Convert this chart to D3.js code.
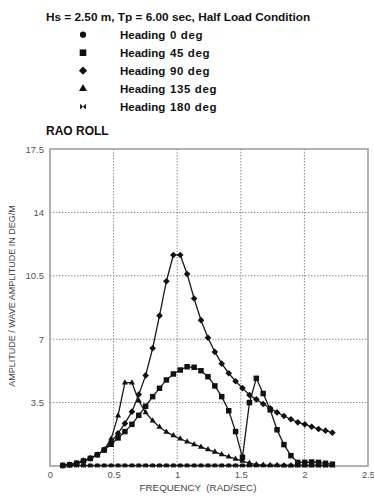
<!DOCTYPE html>
<html>
<head>
<meta charset="utf-8">
<script src="https://cdn.jsdelivr.net/npm/d3@7"></script>
<style>
  body { margin: 0; background: #fff; }
  svg { display: block; font-family: "Liberation Sans", Arial, sans-serif; }
</style>
</head>
<body>
<svg id="chart"></svg>
<script>
// frequency points (rad/sec)
const freq = [0.100, 0.154, 0.209, 0.263, 0.317, 0.372, 0.426, 0.481, 0.535, 0.589,
              0.644, 0.698, 0.752, 0.807, 0.861, 0.915, 0.970, 1.024, 1.078, 1.133,
              1.187, 1.242, 1.296, 1.350, 1.405, 1.459, 1.513, 1.568, 1.622, 1.676,
              1.731, 1.785, 1.839, 1.894, 1.948, 2.003, 2.057, 2.111, 2.166, 2.220];

const heading0 = [0.03, 0.03, 0.03, 0.03, 0.03, 0.03, 0.03, 0.03, 0.03, 0.03,
                  0.03, 0.03, 0.03, 0.03, 0.03, 0.03, 0.03, 0.03, 0.03, 0.03,
                  0.03, 0.03, 0.03, 0.03, 0.03, 0.03, 0.03, 0.03, 0.03, 0.03,
                  0.03, 0.03, 0.03, 0.03, 0.03, 0.03, 0.03, 0.03, 0.03, 0.03];
const heading45 = [0.03, 0.07, 0.15, 0.28, 0.42, 0.62, 0.88, 1.2, 1.55, 1.9,
                   2.3, 2.8, 3.3, 3.83, 4.29, 4.75, 5.08, 5.3, 5.48, 5.45,
                   5.26, 4.93, 4.42, 3.83, 3.05, 1.9, 0.48, 3.5, 4.84, 4.0,
                   3.1, 2.0, 1.18, 0.57, 0.2, 0.2, 0.22, 0.2, 0.15, 0.1];
const heading90 = [0.03, 0.07, 0.15, 0.28, 0.42, 0.62, 0.9, 1.3, 1.8, 2.35,
                   3.0, 3.95, 5.0, 6.5, 8.3, 10.2, 11.65, 11.65, 10.6, 9.25,
                   8.05, 7.08, 6.3, 5.65, 5.12, 4.68, 4.3, 3.92, 3.68, 3.42,
                   3.19, 2.96, 2.76, 2.58, 2.41, 2.3, 2.17, 2.04, 1.95, 1.84];
const heading135 = [0.03, 0.07, 0.15, 0.28, 0.42, 0.62, 0.9, 1.5, 2.78, 4.6,
                    4.6, 3.6, 2.95, 2.5, 2.15, 1.88, 1.68, 1.5, 1.34, 1.19,
                    1.05, 0.91, 0.78, 0.64, 0.51, 0.39, 0.27, 0.16, 0.08, 0.05,
                    0.04, 0.04, 0.03, 0.03, 0.03, 0.03, 0.03, 0.03, 0.03, 0.03];
const heading180 = [0.02, 0.02, 0.02, 0.02, 0.02, 0.02, 0.02, 0.02, 0.02, 0.02,
                    0.02, 0.02, 0.02, 0.02, 0.02, 0.02, 0.02, 0.02, 0.02, 0.02,
                    0.02, 0.02, 0.02, 0.02, 0.02, 0.02, 0.02, 0.02, 0.02, 0.02,
                    0.02, 0.02, 0.02, 0.02, 0.02, 0.02, 0.02, 0.02, 0.02, 0.02];

const legendLabels = ['0 deg', '45 deg', '90 deg', '135 deg', '180 deg'];
const xTicks = [0, 0.5, 1, 1.5, 2, 2.5];
const yTicks = [3.5, 7, 10.5, 14, 17.5];

const width = 374, height = 497;
const svg = d3.select('#chart').attr('width', width).attr('height', height);

// custom markers
const symbolBowtie = {
    draw(context, size) {
        const r = Math.sqrt(size) / 2;
        context.moveTo(-r, -r); context.lineTo(0, 0); context.lineTo(-r, r); context.closePath();
        context.moveTo(r, -r); context.lineTo(0, 0); context.lineTo(r, r); context.closePath();
    }
};
const symbolRhomb = {
    draw(context, size) {
        const r = Math.sqrt(size / 2);
        context.moveTo(0, -r); context.lineTo(r, 0); context.lineTo(0, r); context.lineTo(-r, 0);
        context.closePath();
    }
};

const series = [
    { values: heading0, symbol: d3.symbolCircle, size: 14, legendSize: 30 },
    { values: heading180, symbol: symbolBowtie, size: 22, legendSize: 34 },
    { values: heading135, symbol: d3.symbolTriangle, size: 16, legendSize: 28 },
    { values: heading45, symbol: d3.symbolSquare, size: 30, legendSize: 44 },
    { values: heading90, symbol: symbolRhomb, size: 22, legendSize: 34 }
];
const legendOrder = [0, 3, 4, 2, 1];

const x = d3.scaleLinear().domain([0, 2.5]).range([50, 368]);
const y = d3.scaleLinear().domain([0, 17.5]).range([466, 149]);

// header
svg.append('text').attr('x', 46).attr('y', 20.5)
    .style('font-size', '11.8px').style('font-weight', 'bold').attr('fill', '#111')
    .text('Hs = 2.50 m, Tp = 6.00 sec, Half Load Condition');

const legend = svg.selectAll('.legend')
    .data(legendOrder)
    .enter().append('g')
    .attr('class', 'legend')
    .attr('transform', (d, i) => `translate(0, ${34.7 + i * 18})`);

legend.append('path')
    .attr('transform', 'translate(83, 0)')
    .attr('d', d => d3.symbol().type(series[d].symbol).size(series[d].legendSize)())
    .attr('fill', '#111');

legend.append('text').attr('x', 120).attr('y', 4)
    .style('font-size', '11.5px').style('font-weight', 'bold').attr('fill', '#111')
    .text('Heading');
legend.append('text').attr('x', 170).attr('y', 4)
    .style('font-size', '11.5px').style('font-weight', 'bold').style('letter-spacing', '0.6px')
    .attr('fill', '#111')
    .text((d, i) => legendLabels[i]);

svg.append('text').attr('x', 46).attr('y', 134.5)
    .style('font-size', '12px').style('font-weight', 'bold').attr('fill', '#111')
    .text('RAO ROLL');

// grid
const grid = svg.append('g').attr('stroke', '#8a8a8a').attr('stroke-width', 1)
    .attr('stroke-dasharray', '1.5,1.5');
grid.selectAll('.gx').data(xTicks.slice(1, -1)).enter().append('line')
    .attr('x1', d => x(d)).attr('x2', d => x(d)).attr('y1', y(17.5)).attr('y2', y(0));
grid.selectAll('.gy').data(yTicks.slice(0, -1)).enter().append('line')
    .attr('x1', x(0)).attr('x2', x(2.5)).attr('y1', d => y(d)).attr('y2', d => y(d));

// frame
svg.append('rect').attr('x', x(0)).attr('y', y(17.5))
    .attr('width', x(2.5) - x(0)).attr('height', y(0) - y(17.5))
    .attr('fill', 'none').attr('stroke', '#9a9a9a').attr('stroke-width', 1.5);

// axes
const xAxis = svg.append('g').attr('transform', `translate(0, ${y(0)})`)
    .call(d3.axisBottom(x).tickValues(xTicks).tickFormat(d3.format('')).tickSize(0).tickPadding(5));
const yAxis = svg.append('g').attr('transform', `translate(${x(0)}, 0)`)
    .call(d3.axisLeft(y).tickValues(yTicks).tickFormat(d3.format('')).tickSize(0).tickPadding(6));
[xAxis, yAxis].forEach(a => {
    a.select('.domain').remove();
    a.selectAll('text').style('font-size', '9.5px').attr('fill', '#555')
        .style('font-family', '"Liberation Sans", Arial, sans-serif');
});

svg.append('text')
    .attr('transform', 'translate(15, 296) rotate(-90)')
    .attr('text-anchor', 'middle')
    .style('font-size', '9px').attr('fill', '#444')
    .text('AMPLITUDE / WAVE AMPLITUDE IN DEG/M');

svg.append('text')
    .attr('x', 198).attr('y', 491)
    .attr('text-anchor', 'middle')
    .style('font-size', '9.8px').attr('fill', '#444')
    .style('white-space', 'pre')
    .text('FREQUENCY  (RAD/SEC)');

// curves
const line = d3.line().x((d, i) => x(freq[i])).y(d => y(d));

series.forEach(s => {
    const g = svg.append('g');
    g.append('path')
        .attr('d', line(s.values))
        .attr('fill', 'none')
        .attr('stroke', '#1a1a1a')
        .attr('stroke-width', 1.3);
    g.selectAll('.pt').data(s.values).enter().append('path')
        .attr('transform', (d, i) => `translate(${x(freq[i])}, ${y(d)})`)
        .attr('d', d3.symbol().type(s.symbol).size(s.size)())
        .attr('fill', '#111');
});
</script>
</body>
</html>
